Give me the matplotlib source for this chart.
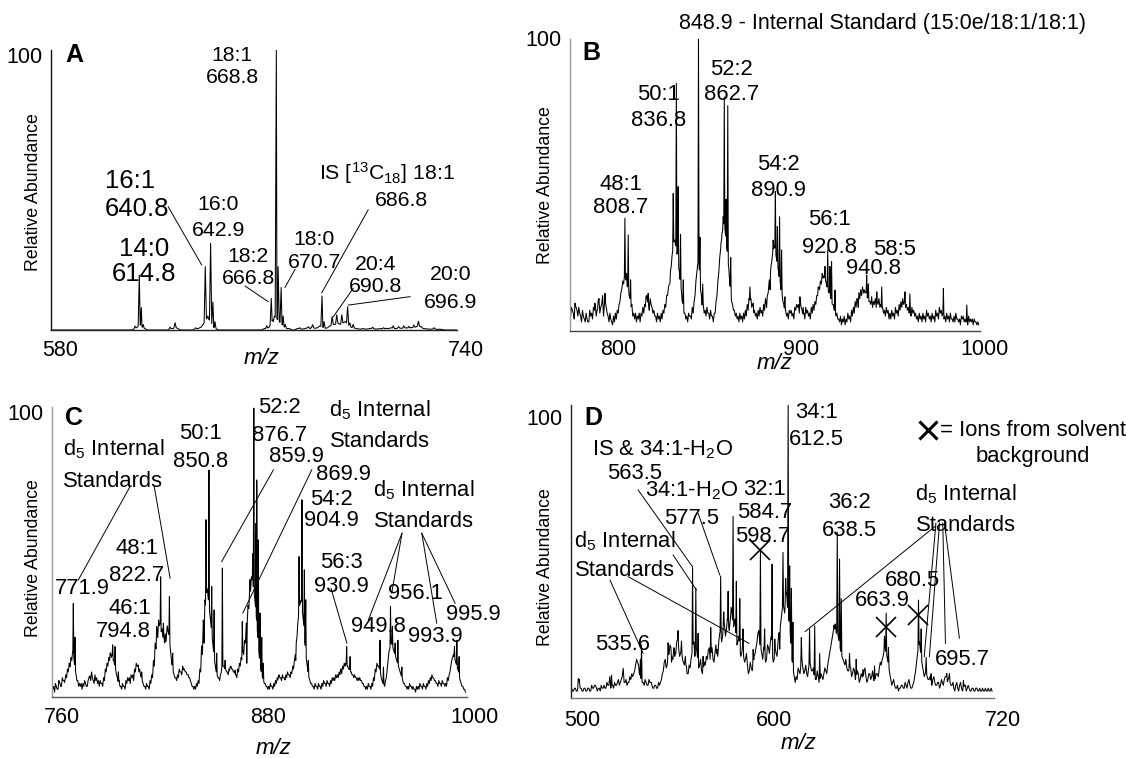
import numpy as np
import matplotlib
matplotlib.use("Agg")
import matplotlib.pyplot as plt
from matplotlib.transforms import ScaledTranslation
from matplotlib.font_manager import FontProperties

plt.rcParams['font.family'] = ['Liberation Sans', 'DejaVu Sans']
plt.rcParams['mathtext.fontset'] = 'custom'
plt.rcParams['mathtext.rm'] = 'Liberation Sans'
plt.rcParams['mathtext.it'] = 'Liberation Sans:italic'
plt.rcParams['mathtext.bf'] = 'Liberation Sans:bold'

# ---------------- Panel A data ----------------
A_base_start = 580
A_base_int = [0]*20 + [0]*10 + \
    [0, 0, 0, 0.5, 1, 2, 1, 0.5, 0, 0] + \
    [0, 0, 0, 0, 0, 0, 0, 0.5, 0.5, 1] + \
    [0.5, 0, 0, 0, 0, 0, 0, 0.5, 0.5, 1] + \
    [2, 4, 4, 3, 1, 0.5, 0, 0, 0, 0] + \
    [0]*10 + \
    [0, 0, 0, 0, 0.5, 0.5, 1, 3, 5, 4] + \
    [3, 2, 1, 0.5, 0.5, 0, 0, 0.5, 0.5, 0.3] + \
    [0.5, 0.8, 0.5, 1, 0.6, 0.8, 1.5, 1, 0.6, 0.8] + \
    [1.5, 2, 2, 2.5, 2, 2.5, 3, 2, 1, 0.8] + \
    [0.6, 0.4, 0.3, 0.5, 0.3, 0.4, 0.6, 0.5, 0.3, 0.4] + \
    [0.5, 0.4, 0.6, 0.5, 0.8, 0.6, 0.5, 0.8, 0.6, 0.7] + \
    [0.8, 0.6, 0.9, 0.8, 1.2, 1.5, 0.8, 0.5, 0.4, 0.3] + \
    [0.3, 0.5, 0.2, 0.3, 0.2, 0, 0, 0, 0, 0, 0]
A_half_int = []
A_peak_mz = [613.1, 614.8, 615.6, 616.3, 626.9, 628.9, 637.0, 639.1, 640.8, 641.8,
             642.9, 643.8, 644.6, 665.0, 666.8, 667.6, 668.8, 669.5, 670.7, 671.5,
             672.3, 678.0, 681.5, 683.1, 686.8, 687.6, 690.8, 692.6, 694.6, 696.9,
             697.8, 699.1, 706.8, 711.0, 714.9, 717.0, 719.0, 721.0, 723.0, 724.8,
             726.0, 731.0]
A_peak_int = [1.4, 19.6, 8, 2, 1, 2.6, 0.8, 1.0, 22.6, 5,
              31, 10, 3, 1.5, 11.3, 3, 100, 22.6, 15.2, 5,
              2, 0.8, 1.2, 1.9, 12.1, 3, 4.8, 5.4, 5.4, 8.3,
              2.5, 2, 1, 0.8, 1.5, 1.2, 1.5, 1.3, 1.8, 3.1,
              1.2, 0.8]

# ---------------- Panel B data ----------------
B_base_start = 779
B_base_int = [5, 7, 4, 8, 5, 6, 3, 5,
              3, 4, 3, 5, 4,
              7, 5, 8, 6, 9, 5, 10, 6,
              3, 4, 2, 3, 4, 6,
              10, 14, 16, 18, 15, 12, 8, 5,
              4, 3, 4, 3, 5, 6,
              8, 10, 7, 9, 6, 5,
              3, 4, 3, 4, 6, 8, 12,
              16, 22, 28, 30, 26, 22, 16, 10, 6,
              4, 3, 5, 4, 6,
              12, 20, 24, 14, 8, 6,
              5, 6, 4, 5, 3, 6,
              12, 20, 28, 34, 36, 30, 24, 16, 10, 7, 5,
              4, 3, 4, 3, 4, 5, 7,
              10, 8, 6, 5,
              4, 5, 6, 5, 7, 9, 13,
              18, 24, 28, 26, 22, 18, 14, 10, 7,
              5, 4, 6, 5, 4, 7, 8,
              6, 8, 5, 4, 6, 5, 4, 6, 7,
              9, 12, 14, 16, 18, 17, 15, 13, 11, 9, 7, 5, 4,
              3, 2, 3, 2, 3, 4, 3, 5, 6, 8,
              10, 11, 12, 12, 13, 11, 10, 9, 8, 9, 8,
              9, 8, 7, 6, 5, 6, 4,
              4, 5, 4, 6, 5, 7, 8, 9, 8, 7, 6, 5, 6, 5, 4,
              3, 4, 3, 4, 3, 5, 4, 3, 4, 3, 5, 4, 6, 5, 4, 3, 4,
              3, 4, 3, 3, 4, 3, 2, 4, 3, 3, 2, 3, 3, 2, 3, 2, 2]
B_half_int = [8, 6, 9, 7, 8, 5, 7, 4,
              6, 3, 7, 6, 8,
              9, 7, 11, 8, 12, 9, 8, 5,
              6, 3, 5, 6, 7, 9,
              13, 17, 19, 17, 16, 11, 9, 6,
              6, 5, 6, 6, 8, 9,
              12, 9, 11, 8, 7, 5,
              6, 5, 6, 7, 9, 12, 15,
              20, 26, 31, 29, 27, 20, 14, 9, 6,
              5, 6, 5, 8, 10,
              17, 23, 20, 12, 9, 7,
              8, 6, 7, 5, 6, 10,
              17, 25, 33, 37, 34, 28, 21, 14, 9, 7, 6,
              5, 6, 5, 6, 7, 9, 11,
              11, 9, 7, 6,
              7, 8, 7, 9, 11, 12, 17,
              22, 27, 29, 25, 21, 17, 13, 9, 7,
              6, 7, 7, 6, 8, 9, 9,
              10, 7, 6, 8, 7, 6, 8, 9, 10,
              12, 15, 17, 19, 19, 17, 15, 13, 11, 9, 7, 6, 4,
              5, 4, 5, 4, 6, 5, 7, 8, 10, 11,
              13, 14, 15, 14, 13, 12, 10, 11, 10, 11, 10,
              11, 9, 8, 7, 8, 7, 6,
              7, 6, 8, 7, 9, 10, 11, 10, 9, 8, 7, 8, 7, 6, 5,
              6, 5, 6, 5, 7, 6, 5, 6, 5, 7, 6, 8, 7, 6, 5, 6, 5,
              6, 4, 5, 6, 4, 4, 5, 5, 4, 4, 5, 4, 4, 4, 3, 3]
B_peak_mz = [781.4, 792.3, 794.1, 797.8,
             806.9, 808.7, 809.6, 810.5, 811.8, 820.2, 821.4,
             833.3, 835.1, 836.0, 836.8, 837.8, 839.1, 840.6,
             848.9, 849.7, 851.2,
             861.5, 862.4, 863.0, 864.0, 864.9, 866.5,
             877.0, 878.8,
             886.1, 888.0, 889.7, 890.9, 892.0, 893.2, 894.3, 896.1,
             904.3, 906.1,
             914.3, 916.5, 918.0, 919.5, 920.7, 921.6, 923.5,
             936.2, 938.9, 940.8, 941.7, 943.5, 946.3, 949.0,
             961.7, 964.4, 982.7, 995.5]
B_peak_int = [9.4, 9.4, 10.5, 12.8,
              13.9, 38.5, 19.6, 32.8, 17.4, 11.6, 12.8,
              16.2, 47, 31, 84.7, 49.3, 33, 17.4,
              100, 32, 16,
              31, 39, 80, 45, 77, 25,
              15, 9.4,
              8, 14, 31, 47.6, 35.6, 39, 27.6, 11.6,
              11.6, 8,
              15, 19.6, 22, 27.6, 22, 23.6, 13.9,
              8, 13.9, 19, 16, 11.6, 13.3, 15,
              13.3, 12.6, 14.5, 8.8]

# ---------------- Panel C data ----------------
C_base_start = 760
C_base_int = [2, 1, 3, 2, 4, 3, 5, 4, 6, 8,
              10, 12, 14, 9, 5, 3,
              3, 2, 3, 4, 3,
              6, 5, 6, 4, 5, 4,
              3, 4, 3, 5, 8, 10,
              12, 13, 12, 10, 7, 4,
              3, 2, 3, 2, 4, 5, 4,
              6, 5, 8, 10, 8, 7, 5,
              3, 2, 3, 2, 4, 6, 10,
              16, 20, 24, 22, 20, 18, 20, 22, 18, 12, 8, 6, 5,
              6, 8, 7, 9, 8, 7, 6, 5, 3,
              2, 2, 3, 4, 8, 14,
              22, 30, 36, 30, 24, 18, 12, 8, 6, 5,
              8, 10, 9, 8, 7, 8, 9, 8, 7, 6, 8, 10,
              12, 14, 18, 24, 30, 36, 40, 36, 30, 22, 14, 9, 6, 4,
              3, 2, 2, 3, 2, 3, 4,
              5, 6, 5, 6, 5, 6, 7, 6, 7, 9,
              14, 20, 28, 32, 30, 24, 16, 10, 6, 4, 3,
              2, 3, 2, 3, 2, 3, 4, 3, 4, 3,
              4, 5, 5, 6, 6, 7, 8, 9, 10, 10, 9, 8, 7, 6, 6, 5, 5,
              5, 4, 3, 2, 2, 3, 2, 3, 5,
              8, 10, 9, 6, 4, 3,
              6, 12, 16, 18, 16, 14, 12, 10, 8,
              6, 4, 3, 2, 2, 3, 2, 2, 1, 2,
              2, 3, 2, 3, 2, 3, 4, 5, 6, 5, 4, 3, 4, 3, 4, 3, 3,
              5, 8, 12, 14, 12, 10, 8, 5, 3, 2, 1]
C_half_int = [3, 4, 2, 5, 3, 6, 5, 7, 9, 11,
              13, 15, 11, 7, 5, 4,
              4, 4, 5, 3, 5,
              7, 8, 5, 7, 6, 5,
              5, 4, 6, 9, 11, 13,
              15, 14, 12, 9, 6, 5,
              3, 4, 3, 5, 6, 6, 7,
              7, 9, 11, 10, 9, 6, 4,
              3, 4, 3, 5, 7, 12, 18,
              22, 26, 25, 23, 21, 22, 24, 21, 15, 10, 7, 6, 7,
              9, 8, 10, 9, 8, 7, 6, 4, 3,
              3, 4, 5, 9, 17, 26,
              33, 37, 33, 27, 21, 15, 10, 7, 6, 7,
              11, 10, 9, 8, 9, 10, 9, 8, 7, 9, 11, 13,
              15, 19, 25, 31, 37, 41, 38, 33, 26, 17, 11, 7, 5, 4,
              3, 3, 4, 3, 4, 5, 6,
              7, 6, 7, 6, 7, 8, 7, 8, 10, 12,
              18, 25, 31, 33, 27, 19, 12, 7, 5, 4, 3,
              4, 3, 4, 3, 4, 5, 4, 5, 4, 5,
              6, 6, 7, 7, 8, 9, 10, 11, 11, 10, 9, 8, 7, 7, 6, 6, 6,
              5, 4, 3, 3, 4, 3, 4, 6, 9,
              11, 10, 8, 5, 4, 5,
              9, 15, 18, 17, 15, 13, 11, 9, 7,
              5, 4, 3, 3, 4, 3, 3, 2, 3, 3,
              4, 3, 4, 3, 4, 5, 6, 7, 6, 5, 4, 5, 4, 5, 4, 4, 6,
              7, 10, 13, 13, 11, 9, 6, 4, 3, 2]
C_peak_mz = [764.2, 767.1, 770.0, 771.9, 772.9, 781.6,
             793.3, 794.8, 796.2, 798.1, 809.7, 811.7,
             820.4, 822.7, 824.3, 825.7, 827.8, 829.7, 835.9, 838.8,
             848.0, 849.1, 850.8, 852.4, 853.8, 855.3,
             858.6, 860.2, 863.1, 866.0,
             870.2, 872.8, 874.7, 876.3, 876.9, 878.2, 878.6, 879.5, 880.5, 881.5, 882.4,
             891.2, 895.1, 899.0, 901.3, 903.2, 904.9, 906.3, 907.1, 908.6,
             928.0, 930.9, 932.9, 935.8,
             950.3, 952.3, 956.4, 957.5, 959.1, 960.7, 963.0,
             981.4, 993.6, 995.0, 996.3]
C_peak_int = [4, 5.2, 9.8, 31.8, 20, 6.4,
              14.5, 17.4, 16.8, 8, 10.4, 8,
              23.7, 41, 24.9, 18.5, 34.1, 14.5, 8.7, 7,
              18, 60.8, 78, 37.6, 29.5, 14.5,
              44, 12, 9.7, 8.6,
              25.5, 11, 40, 49, 99.5, 59.6, 74.6, 53.8, 28.4, 20, 11,
              6.4, 5.2, 7.5, 12, 48, 67.7, 43.4, 33, 12,
              7.5, 16.8, 13.3, 6.4,
              19, 9.7, 30.7, 23.7, 18, 19, 9.7,
              5.8, 16.8, 19, 13.3]

# ---------------- Panel D data ----------------
D_base_start = 499
D_base_int = [2, 1, 2, 1, 5, 2, 1, 2, 1, 2, 1, 2, 3, 2,
              2, 1, 2, 3, 2, 3, 6, 3, 2, 3, 4, 3, 5, 9, 4, 3, 4, 5,
              6, 8, 12, 10, 6, 4, 3, 4, 3, 4, 3,
              2, 3, 2, 3, 5,
              8, 12, 10, 14, 16, 12, 15, 18, 16, 14, 12, 10, 8, 7,
              9, 14, 18, 16, 12, 10, 8, 9,
              10, 12, 16, 14, 12, 14, 16, 18,
              22, 20, 24, 22, 24, 26, 28, 24, 20, 18, 16, 14, 13, 12,
              10, 8, 9, 10, 14, 18, 22, 16, 12,
              14, 12, 16, 18, 14, 12, 14, 18, 22, 28, 30, 34, 30, 24, 14, 8, 4,
              5, 8, 10, 9, 8, 7, 9, 10, 8, 6, 5, 6, 5, 6,
              7, 8, 10, 14, 18, 22, 24, 22, 18, 14, 12, 10, 9,
              8, 9, 7, 8, 6, 7, 5, 6, 8, 6, 5, 7, 6, 5, 6, 7, 9,
              10, 13, 16, 13, 9, 5, 4, 3, 2, 1,
              2, 3, 2, 3, 4, 3, 2, 4,
              8, 14, 18, 12, 8, 7, 6, 5, 4, 5, 4, 3,
              4, 3, 4, 5, 6, 5, 4, 3, 2, 3, 2, 3, 2, 2, 3, 2, 2, 1, 2, 1, 2, 1, 1, 2, 1, 1, 2, 1, 1]
D_half_int = [1, 2, 1, 3, 2, 1, 2, 1, 2, 1, 3, 2, 3, 1,
              2, 3, 2, 2, 4, 3, 2, 3, 4, 3, 5, 4, 6, 4, 5, 4, 6, 7,
              7, 10, 11, 7, 5, 4, 5, 3, 5, 4, 2,
              3, 2, 4, 4, 7,
              11, 9, 13, 17, 13, 16, 14, 19, 13, 16, 11, 13, 7, 10,
              12, 17, 13, 15, 9, 12, 7, 11,
              13, 15, 12, 16, 11, 17, 13, 21,
              18, 25, 20, 26, 22, 30, 22, 26, 17, 20, 13, 17, 11, 14,
              7, 11, 8, 13, 16, 21, 17, 14, 16,
              11, 17, 14, 20, 11, 16, 13, 21, 25, 31, 28, 35, 27, 20, 11, 6, 6,
              9, 7, 12, 7, 10, 6, 11, 8, 9, 5, 8, 4, 7, 5,
              9, 7, 12, 16, 20, 25, 21, 20, 16, 13, 11, 12, 8,
              10, 6, 9, 5, 8, 4, 7, 5, 9, 4, 7, 5, 8, 4, 7, 6, 11,
              12, 15, 14, 11, 7, 3, 5, 2, 3, 2,
              3, 2, 4, 2, 5, 2, 3, 6,
              11, 16, 15, 10, 6, 8, 5, 6, 3, 6, 3, 4,
              2, 5, 3, 6, 4, 6, 3, 4, 1, 4, 1, 4, 1, 3, 1, 3, 1, 2, 1, 2, 1, 2, 1, 1, 2, 1, 1, 2]
D_peak_mz = [502.5, 519.9, 526.0, 535.0, 535.6, 540.8,
             549.5, 551.3, 553.0, 554.7, 556.5, 559.1,
             562.3, 564.0, 565.2, 567.8,
             571.8, 574.8, 577.0, 578.6, 580.9, 582.1, 583.5, 585.2, 587.0, 588.7, 594.0,
             597.8, 600.0, 603.9, 605.3, 607.9, 609.6, 611.0, 612.3, 613.1, 614.0, 614.8,
             619.2, 623.5, 626.2, 628.8,
             636.6, 638.0, 639.2, 640.1, 644.4, 647.9, 651.4, 657.5,
             662.7, 663.6, 664.8,
             680.5, 681.9, 684.5, 687.1, 695.3, 696.7, 704.0]
D_peak_int = [5.3, 6.5, 8.9, 12, 17, 4,
              17.7, 11, 13, 21.9, 18.3, 9.5,
              43.7, 36.6, 21, 13,
              23, 14, 40.8, 28.4, 35.5, 26, 61.5, 39, 33, 22.5, 15.4,
              49.6, 22.5, 44.9, 19, 15.5, 49, 40, 100, 44.3, 36.6, 24.8,
              19.5, 22.5, 23.6, 14,
              22.5, 56, 46.7, 33, 14, 12, 8.5, 9.7,
              20, 28, 16,
              32.5, 22.5, 12.7, 7, 7.1, 7, 4.6]
D_solvent_mz = [597.8, 663.6, 680.5]
D_solvent_int = [49.8, 23.1, 27.2]

# ---------------- Annotations ----------------
# (x, y of first line, y of last line, text, size, weight, ha)
FA = 15.3   # panel A labels
FAB = 18.5  # panel A large labels
FL = 15.8   # other labels
FP = 18     # panel letters

A_texts = [
    (589.1, 98.2, 98.2, 'A', FP, 'bold', 'center'),
    (651.4, 97.4, 90.8, '18:1\n668.8', FA, 'normal', 'center'),
    (712.3, 56.0, 56.0, 'IS [$^{13}$C$_{18}$] 18:1', FA, 'normal', 'center'),
    (718.2, 46.4, 46.4, '686.8', FA, 'normal', 'center'),
    (601.3, 52.4, 44.0, '16:1\n640.8', FAB, 'normal', 'left'),
    (646.0, 44.0, 36.3, '16:0\n642.9', FA, 'normal', 'center'),
    (616.7, 28.0, 20.8, '14:0\n614.8', FAB, 'normal', 'center'),
    (657.8, 25.6, 19.0, '18:2\n666.8', FA, 'normal', 'center'),
    (683.7, 31.5, 25.0, '18:0\n670.7', FA, 'normal', 'center'),
    (708.0, 22.6, 16.1, '20:4\n690.8', FA, 'normal', 'center'),
    (737.3, 19.0, 10.7, '20:0\n696.9', FA, 'normal', 'center'),
]
A_leaders = [(626.2, 44.0, 639.4, 23.2), (656.5, 15.7, 665.6, 10.1),
             (676.2, 21.7, 672.2, 15.2), (705.0, 42.9, 686.7, 13.3),
             (699.1, 14.9, 691.3, 4.8), (721.5, 11.9, 697.2, 8.9)]

B_texts = [
    (790.6, 94.9, 94.9, 'B', FP, 'bold', 'center'),
    (827.2, 80.1, 72.7, '50:1\n836.8', FL, 'normal', 'center'),
    (867.0, 88.6, 81.8, '52:2\n862.7', FL, 'normal', 'center'),
    (806.4, 49.3, 43.0, '48:1\n808.7', FL, 'normal', 'center'),
    (892.6, 56.1, 48.7, '54:2\n890.9', FL, 'normal', 'center'),
    (920.3, 37.3, 29.3, '56:1\n920.8', FL, 'normal', 'center'),
    (956.2, 27.9, 27.9, '58:5', FL, 'normal', 'center'),
    (944.4, 21.4, 21.4, '940.8', FL, 'normal', 'center'),
]
B_title = (838.4, 105.2, '848.9 - Internal Standard (15:0e/18:1/18:1)')

C_texts = [
    (772.3, 96.1, 96.1, 'C', FP, 'bold', 'center'),
    (795.2, 84.5, 75.2, 'd$_5$ Internal\nStandards', FL, 'normal', 'center'),
    (892.0, 99.0, 90.9, '52:2\n876.7', FL, 'normal', 'center'),
    (901.5, 82.7, 82.7, '859.9', FL, 'normal', 'center'),
    (929.0, 76.4, 76.4, '869.9', FL, 'normal', 'center'),
    (846.1, 89.7, 81.8, '50:1\n850.8', FL, 'normal', 'center'),
    (950.3, 97.8, 89.1, 'd$_5$ Internal\nStandards', FL, 'normal', 'center'),
    (922.2, 67.1, 61.4, '54:2\n904.9', FL, 'normal', 'center'),
    (976.0, 70.0, 61.4, 'd$_5$ Internal\nStandards', FL, 'normal', 'center'),
    (808.7, 50.1, 42.3, '48:1\n822.7', FL, 'normal', 'center'),
    (777.0, 37.0, 37.0, '771.9', FL, 'normal', 'center'),
    (817.0, 29.3, 23.0, '46:1\n794.8', FL, 'normal', 'right'),
    (928.0, 45.1, 38.5, '56:3\n930.9', FL, 'normal', 'center'),
    (970.7, 35.3, 35.3, '956.1', FL, 'normal', 'center'),
    (949.4, 23.7, 23.7, '949.8', FL, 'normal', 'center'),
    (982.3, 20.2, 20.2, '993.9', FL, 'normal', 'center'),
    (1004.6, 27.8, 27.8, '995.9', FL, 'normal', 'center'),
]
C_leaders = [(804.9, 72.3, 774.8, 39.9), (818.9, 72.6, 828.2, 40.5),
             (888.3, 78.1, 858.2, 46.3), (910.6, 78.1, 870.5, 28.4),
             (921.8, 37.0, 931.0, 18.0), (963.1, 56.1, 943.5, 26.0),
             (963.1, 56.1, 957.1, 35.3), (974.6, 56.1, 983.3, 24.9),
             (974.6, 56.1, 994.0, 31.8)]

D_texts = [
    (510.6, 95.4, 95.4, 'D', FP, 'bold', 'center'),
    (627.1, 96.5, 89.0, '34:1\n612.5', FL, 'normal', 'center'),
    (546.5, 84.6, 84.6, 'IS & 34:1-H$_2$O', FL, 'normal', 'center'),
    (531.9, 76.2, 76.2, '563.5', FL, 'normal', 'center'),
    (561.9, 69.4, 61.9, '34:1-H$_2$O\n577.5', FL, 'normal', 'center'),
    (600.0, 70.0, 63.7, '32:1\n584.7', FL, 'normal', 'center'),
    (598.9, 54.4, 54.4, '598.7', FL, 'normal', 'center'),
    (644.6, 65.4, 57.3, '36:2\n638.5', FL, 'normal', 'center'),
    (526.8, 52.1, 44.0, 'd$_5$ Internal\nStandards', FL, 'normal', 'center'),
    (525.8, 17.0, 17.0, '535.6', FL, 'normal', 'center'),
    (705.5, 68.3, 59.6, 'd$_5$ Internal\nStandards', FL, 'normal', 'center'),
    (677.5, 39.4, 39.4, '680.5', FL, 'normal', 'center'),
    (661.5, 32.3, 32.3, '663.9', FL, 'normal', 'center'),
    (703.3, 11.8, 11.8, '695.7', FL, 'normal', 'center'),
    (740.1, 82.1, 82.1, 'background', FL, 'normal', 'center'),
]
D_leaders = [(533.8, 70.6, 562.3, 44.0), (565.2, 62.5, 576.5, 41.2),
             (552.1, 48.1, 564.3, 36.0), (519.1, 39.4, 536.4, 14.1),
             (528.6, 40.6, 591.8, 17.5), (689.0, 57.9, 621.2, 21.6),
             (689.6, 59.1, 683.5, 12.9), (691.5, 59.1, 686.2, 12.9),
             (693.2, 59.1, 694.6, 17.5), (694.1, 59.1, 701.9, 19.3)]
D_legend_marker = (685.7, 91.3)
D_legend_text = (691.6, 91.3, '= Ions from solvent')


def build_trace(base_start, base_int, half_int, peak_mz, peak_int, w):
    bi = np.asarray(base_int, float)
    bm = base_start + np.arange(len(bi), dtype=float)
    hi = np.asarray(half_int, float)
    hm = base_start + 0.5 + np.arange(len(hi), dtype=float)
    allm = np.concatenate([bm, hm])
    alli = np.concatenate([bi, hi])
    o = np.argsort(allm)
    allm, alli = allm[o], alli[o]
    pm = np.asarray(peak_mz, float)
    ph = np.asarray(peak_int, float)
    keep = np.ones(len(allm), bool)
    for m in pm:
        keep &= ~((allm > m - w) & (allm < m + w))
    xs = list(allm[keep])
    ys = list(alli[keep])
    for m, h in zip(pm, ph):
        for x in (m - w, m + w):
            xs.append(x)
            ys.append(float(np.interp(x, allm, alli)))
        xs.append(m)
        ys.append(h)
    xs = np.array(xs)
    ys = np.array(ys)
    order = np.argsort(xs, kind='stable')
    return xs[order], ys[order]


fig = plt.figure(figsize=(11.26, 7.58), dpi=100)
renderer = fig.canvas.get_renderer()


def rect(l, t, r, b):
    return [l / 1126, 1 - b / 758, (r - l) / 1126, (b - t) / 758]


def setup(ax, xlim, ylim, xticks, spine_left, spine_bottom, ytl_dy, xpad, tick_size):
    ax.set_xlim(*xlim)
    ax.set_ylim(*ylim)
    for s in ('top', 'right'):
        ax.spines[s].set_visible(False)
    ax.spines['left'].set_color(spine_left)
    ax.spines['bottom'].set_color(spine_bottom)
    ax.spines['left'].set_linewidth(1.0)
    ax.spines['bottom'].set_linewidth(1.0)
    ax.set_xticks(xticks)
    ax.set_xticklabels([str(t) for t in xticks])
    ax.set_yticks([100])
    ax.set_yticklabels(['100'])
    ax.tick_params(axis='x', length=0, pad=xpad, labelsize=tick_size)
    ax.tick_params(axis='y', length=0, pad=6, labelsize=15.5)
    offx = ScaledTranslation(9 / 100, 0, fig.dpi_scale_trans)
    for lab in ax.get_xticklabels():
        lab.set_transform(lab.get_transform() + offx)
    offy = ScaledTranslation(0, -ytl_dy / 100, fig.dpi_scale_trans)
    for lab in ax.get_yticklabels():
        lab.set_transform(lab.get_transform() + offy)


def annotate(ax, texts, leaders):
    for x, y1, y2, s, size, weight, ha in texts:
        n = s.count('\n') + 1
        ls = 1.2
        if n > 1:
            p1 = ax.transData.transform((x, y1))[1]
            p2 = ax.transData.transform((x, y2))[1]
            pitch = (p1 - p2) / (n - 1)
            fp = FontProperties(family=plt.rcParams['font.family'], size=size,
                                weight=weight)
            _, h, d = renderer.get_text_width_height_descent('lp', fp, ismath=False)
            ls = pitch / (h - d)
        ax.text(x, (y1 + y2) / 2, s, fontsize=size, fontweight=weight, ha=ha,
                multialignment=ha, va='center', linespacing=ls, clip_on=False)
    for x1, y1, x2, y2 in leaders:
        ax.plot([x1, x2], [y1, y2], color='black', lw=0.7, clip_on=False)


def axis_labels(ax, ylab_xy, xlab_xy):
    ax.text(ylab_xy[0], ylab_xy[1], 'Relative Abundance', rotation=90,
            fontsize=12.8, ha='center', va='center', transform=ax.transAxes)
    ax.text(xlab_xy[0], xlab_xy[1], 'm/z', fontstyle='italic', fontsize=16,
            ha='center', va='center', transform=ax.transAxes)


TRACE = dict(color='black', lw=0.75)

# ---------- A ----------
axA = fig.add_axes(rect(51, 50, 457, 330))
tx, ty = build_trace(A_base_start, A_base_int, A_half_int, A_peak_mz, A_peak_int, 0.45)
axA.plot(tx, ty, **TRACE)
setup(axA, (580, 740), (0, 100), [580, 740], '#111111', '#222222', 5, 7, 15.5)
annotate(axA, A_texts, A_leaders)
axis_labels(axA, (-0.044, 0.494), (0.519, -0.101))

# ---------- B ----------
axB = fig.add_axes(rect(570, 38.5, 980, 330.7))
tx, ty = build_trace(B_base_start, B_base_int, B_half_int, B_peak_mz, B_peak_int, 0.3)
axB.plot(tx, ty, **TRACE)
setup(axB, (778.7, 1002.7), (0, 100), [800, 900, 1000], '#999999', '#444444', 0, 6, 15.5)
annotate(axB, B_texts, [])
axB.text(B_title[0], B_title[1], B_title[2], fontsize=15.5, ha='left', va='center',
         clip_on=False)
axis_labels(axB, (-0.060, 0.499), (0.499, -0.112))

# ---------- C ----------
axC = fig.add_axes(rect(52, 406.7, 467, 697))
tx, ty = build_trace(C_base_start, C_base_int, C_half_int, C_peak_mz, C_peak_int, 0.3)
axC.plot(tx, ty, **TRACE)
setup(axC, (759.5, 1000.9), (-0.7, 100), [760, 880, 1000], '#999999', '#555555', 5, 7, 15.5)
annotate(axC, C_texts, C_leaders)
axis_labels(axC, (-0.045, 0.478), (0.533, -0.177))

# ---------- D ----------
axD = fig.add_axes(rect(571, 405, 994, 698))
tx, ty = build_trace(D_base_start, D_base_int, D_half_int, D_peak_mz, D_peak_int, 0.3)
axD.plot(tx, ty, **TRACE)
setup(axD, (498.7, 720.0), (-1.4, 100), [500, 600, 720], '#222222', '#777777', 12, 9, 15.5)
annotate(axD, D_texts, D_leaders)
axD.plot(D_solvent_mz, D_solvent_int, ls='none', marker='x', ms=14, mew=1.2,
         color='black', clip_on=False)
axD.plot([D_legend_marker[0]], [D_legend_marker[1]], ls='none', marker='x', ms=13,
         mew=2.2, color='black', clip_on=False)
axD.text(D_legend_text[0], D_legend_text[1], D_legend_text[2], fontsize=FL,
         ha='left', va='center', clip_on=False)
axis_labels(axD, (-0.061, 0.448), (0.537, -0.155))

fig.savefig('out.png', dpi=100)
